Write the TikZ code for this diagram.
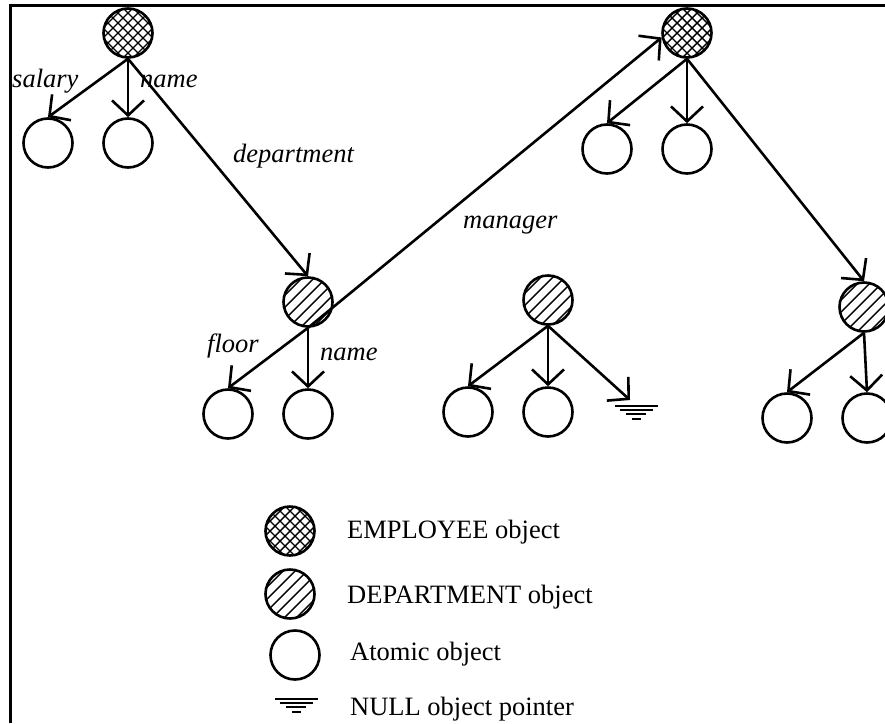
\documentclass[tikz,border=0pt]{standalone}
\usepackage{fontspec}
\setmainfont{Liberation Serif}
\usetikzlibrary{arrows.meta,calc}
\begin{document}
\begin{tikzpicture}[x=1pt,y=-1pt,
  lw/.style={line width=2.6pt},
  obj/.style={circle,draw,lw,minimum size=49pt,inner sep=0pt},
  hatch/.style={line width=1.4pt},
  emp/.style={obj,path picture={\foreach \i in {-60,-50,...,60}{
     \draw[hatch] ([shift={({\i-30},30)}]path picture bounding box.center) -- ++(60,-60);
     \draw[hatch] ([shift={({\i-30},-30)}]path picture bounding box.center) -- ++(60,60);}}},
  dep/.style={obj,path picture={\foreach \i in {-66,-54,...,66}{
     \draw[hatch] ([shift={({\i-30},30)}]path picture bounding box.center) -- ++(60,-60);}}},
  atom/.style={obj},
  conn/.style={lw,-{Straight Barb[length=15pt,width=32pt]}},
  lab/.style={font=\fontsize{26.5}{30}\selectfont\itshape,anchor=base west,inner sep=0pt},
  leg/.style={font=\fontsize{26.5}{30}\selectfont,anchor=base west,inner sep=0pt},
  nullpic/.pic={\draw[line width=2.2pt] (-21,0)--(22,0) (-16,4)--(17,4) (-10,8)--(10,8) (-4,13)--(5,13);}
]
\useasboundingbox (0,0) rectangle (885,723);
\clip (0,0) rectangle (885,723);
\draw[line width=3pt] (10,723) -- (10,5) -- (885,5);

% nodes
\node[emp] (E1) at (128,33) {};
\node[atom] (a1) at (48,143) {};
\node[atom] (a2) at (128,143) {};
\node[dep] (D1) at (308,302) {};
\node[atom] (a3) at (228,414) {};
\node[atom] (a4) at (308,414) {};
\node[dep] (D2) at (548,300) {};
\node[atom] (a5) at (468,412) {};
\node[atom] (a6) at (548,412) {};
\coordinate (N1) at (636,406);
\coordinate (N1tip) at (630,400);
\pic at (N1) {nullpic};
\node[emp] (E2) at (687,33) {};
\node[atom] (a7) at (607,149) {};
\node[atom] (a8) at (687,149) {};
\node[dep] (D3) at (864,307) {};
\node[atom] (a9) at (787,418) {};
\node[atom] (a10) at (867,418) {};

% connectors
\draw[conn] (E1.south) -- (a1.north);
\draw[conn] (E1.south) -- (a2.north);
\draw[conn] (E1.south) -- (D1.north);
\draw[conn] (D1.south) -- (a3.north);
\draw[conn] (D1.south) -- (a4.north);
\draw[conn] (D1.south) -- (E2.190);
\draw[conn] (D2.south) -- (a5.north);
\draw[conn] (D2.south) -- (a6.north);
\draw[conn] (D2.south) -- (N1tip);
\draw[conn] (E2.south) -- (a7.north);
\draw[conn] (E2.south) -- (a8.north);
\draw[conn] (E2.south) -- (D3.north);
\draw[conn] (D3.south) -- (a9.north);
\draw[conn] (D3.south) -- (a10.north);

% labels
\node[lab] (lsal) at (12,87) {salary};
\node[lab] (lname1) at (140,87) {name};
\node[lab] (ldep) at (233,162) {department};
\node[lab] (lman) at (463,228) {manager};
\node[lab] (lfloor) at (207,352) {floor};
\node[lab] (lname2) at (320,360) {name};

% legend
\node[emp] (LE) at (290,531) {};
\node[dep] (LD) at (290,594) {};
\node[atom] (LA) at (295,655) {};
\coordinate (LN) at (296,699);
\pic at (LN) {nullpic};
\node[leg] (tE) at (347,538) {EMPLOYEE object};
\node[leg] (tD) at (347,603) {DEPARTMENT object};
\node[leg] (tA) at (350,660) {Atomic object};
\node[leg] (tN) at (350,715) {NULL object pointer};
\end{tikzpicture}
\end{document}
